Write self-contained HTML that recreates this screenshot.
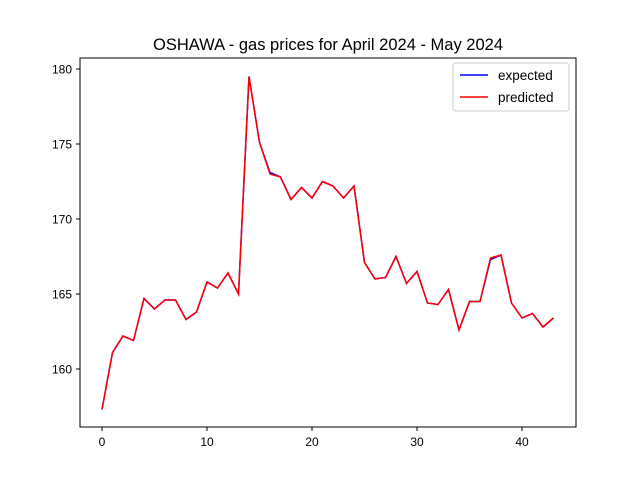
<!DOCTYPE html>
<html><head><meta charset="utf-8"><style>
body{margin:0;background:#fff;font-family:"Liberation Sans","DejaVu Sans",sans-serif}
</style></head><body>
<svg width="640" height="480" xmlns="http://www.w3.org/2000/svg">
<rect width="640" height="480" fill="#fff"/>
<text x="328" y="50" font-size="16.5" text-anchor="middle">OSHAWA - gas prices for April 2024 - May 2024</text>
<g id="axes"></g>
<g id="lines"></g>
<rect x="80" y="58" width="496" height="369" fill="none" stroke="#000" stroke-width="1"/>
<g>
<rect x="453" y="63" width="116" height="48" rx="3" fill="#fff" stroke="#ccc"/>
<line x1="460" y1="75" x2="488" y2="75" stroke="blue" stroke-width="1.5"/>
<text x="498" y="80" font-size="13.5">expected</text>
<line x1="460" y1="97" x2="488" y2="97" stroke="red" stroke-width="1.5"/>
<text x="498" y="102" font-size="13.5">predicted</text>
</g>
</svg>
<script>
const expected=[157.3,161.1,162.2,161.9,164.7,164.0,164.6,164.6,163.3,163.8,165.8,165.4,166.4,165.0,179.5,175.1,173.1,172.8,171.3,172.1,171.4,172.5,172.2,171.4,172.2,167.1,166.0,166.1,167.5,165.7,166.5,164.4,164.3,165.3,162.6,164.5,164.5,167.3,167.6,164.4,163.4,163.7,162.8,163.4];
const predicted=[157.3,161.1,162.2,161.9,164.7,164.0,164.6,164.6,163.3,163.8,165.8,165.4,166.4,165.0,179.5,175.1,173.0,172.8,171.3,172.1,171.4,172.5,172.2,171.4,172.2,167.1,166.0,166.1,167.5,165.7,166.5,164.4,164.3,165.3,162.6,164.5,164.5,167.4,167.6,164.4,163.4,163.7,162.8,163.4];
const xTicks=[0,10,20,30,40];
const yTicks=[160,165,170,175,180];
const NS="http://www.w3.org/2000/svg";
const xs=v=>102+v*10.5;
const ys=v=>369-(v-160)*15;
const axes=document.getElementById('axes');
xTicks.forEach(t=>{
 const l=document.createElementNS(NS,'line');
 l.setAttribute('x1',xs(t));l.setAttribute('x2',xs(t));l.setAttribute('y1',427);l.setAttribute('y2',431);l.setAttribute('stroke','#000');
 
 
 axes.appendChild(l);
 const tx=document.createElementNS(NS,'text');
 tx.setAttribute('x',xs(t));tx.setAttribute('y',446);tx.setAttribute('font-size','12');tx.setAttribute('text-anchor','middle');tx.textContent=t;
 
 
 axes.appendChild(tx);
});
yTicks.forEach(t=>{
 const l=document.createElementNS(NS,'line');
 l.setAttribute('x1',76);l.setAttribute('x2',80);l.setAttribute('y1',ys(t));l.setAttribute('y2',ys(t));l.setAttribute('stroke','#000');
 
 
 axes.appendChild(l);
 const tx=document.createElementNS(NS,'text');
 tx.setAttribute('x',72);tx.setAttribute('y',ys(t)+4.5);tx.setAttribute('font-size','12');tx.setAttribute('text-anchor','end');tx.textContent=t;
 
 
 axes.appendChild(tx);
});
const lines=document.getElementById('lines');
function draw(arr,color,name){
 const p=document.createElementNS(NS,'polyline');
 p.setAttribute('points',arr.map((v,i)=>xs(i)+','+ys(v)).join(' '));
 p.setAttribute('fill','none');p.setAttribute('stroke',color);p.setAttribute('stroke-width','1.5');
 
 
 lines.appendChild(p);
}
draw(expected,'blue','expected-line');
draw(predicted,'red','predicted-line');
</script>
</body></html>
